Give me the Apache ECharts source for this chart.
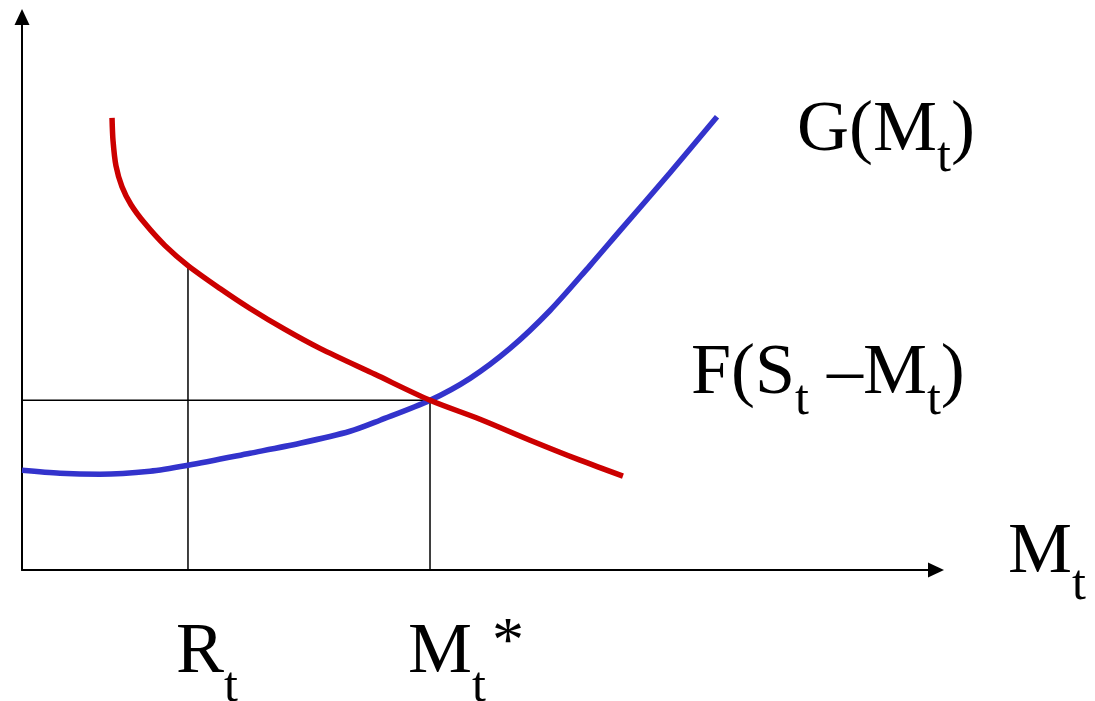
<!DOCTYPE html>
<html>
<head>
<meta charset="utf-8">
<script src="https://cdn.jsdelivr.net/npm/echarts@6/dist/echarts.min.js"></script>
<style>html,body{margin:0;padding:0;background:#fff}#c{width:1095px;height:701px}</style>
</head>
<body>
<div id="c"></div>
<script>
// F(S_t - M_t) curve (red)
const fX = [9.85,9.96,10.28,10.94,11.93,13.46,15.65,18.16,21.66,24.95,28.77,32.60,38.62,44.64,50.11,55.58,61.05,65.75];
const fY = [81.77,77.62,73.10,69.31,66.06,62.64,58.66,55.05,50.90,47.29,43.50,40.07,35.38,30.69,27.26,23.47,19.86,16.97];
// G(M_t) curve (blue)
const gX = [0,4.16,8.53,14.0,18.16,24.95,30.42,35.89,39.17,44.64,49.02,53.39,57.77,62.14,65.43,70.9,76.04];
const gY = [18.05,17.51,17.33,17.87,18.95,21.12,22.92,25.09,27.08,30.69,34.66,40.07,46.93,55.05,61.37,71.84,81.95];
// guide points
const rtX = 18.16, rtY = 55.05;
const mStarX = 44.64, mStarY = 30.69;

const serif = '"Liberation Serif","Times New Roman",serif';
const chart = echarts.init(document.getElementById('c'));

function pairs(xs, ys){ return xs.map((x,i)=>[x, ys[i]]); }
function richFor(drop){
  return {
    m: {fontSize:72, fontFamily:serif, lineHeight:72, verticalAlign:'top', color:'#000'},
    s: {fontSize:50, fontFamily:serif, lineHeight:68 + drop, verticalAlign:'bottom', color:'#000'}
  };
}
function label(x, y, text, rich){
  return {type:'text', left:x, top:y, style:{text:text, rich:rich, fill:'#000'}};
}

const thin = {color:'#000', width:1.5};
const axisLine = {lineStyle:{color:'#000', width:2}, symbol:['none','triangle'], symbolSize:[15,16]};
chart.setOption({
  animation:false,
  grid:{left:22, right:159, top:17, bottom:131},
  xAxis:{type:'value', min:0, max:100, axisLabel:{show:false}, axisTick:{show:false}, splitLine:{show:false}, axisLine:axisLine},
  yAxis:{type:'value', min:0, max:100, axisLabel:{show:false}, axisTick:{show:false}, splitLine:{show:false}, axisLine:axisLine},
  series:[
    {type:'line', data:[[rtX,0],[rtX,rtY]], symbol:'none', lineStyle:thin, z:1},
    {type:'line', data:[[0,mStarY],[mStarX,mStarY],[mStarX,0]], symbol:'none', lineStyle:thin, z:1},
    {type:'line', data:pairs(gX,gY), smooth:0.3, symbol:'none', lineStyle:{color:'#3333cc', width:5.5}, z:2},
    {type:'line', data:pairs(fX,fY), smooth:0.3, symbol:'none', lineStyle:{color:'#cc0000', width:5.5}, z:3}
  ],
  graphic:[
    label(797, 95, '{m|G(M}{s|t}{m|)}', richFor(20)),
    label(691, 338, '{m|F(S}{s|t}{m| –M}{s|t}{m|)}', richFor(20)),
    label(1008, 517, '{m|M}{s|t}', richFor(26)),
    label(176, 617, '{m|R}{s|t}', richFor(28)),
    label(408, 617, '{m|M}{s|t}', richFor(28)),
    {type:'text', left:492, top:612, style:{text:'*', font:'64px ' + serif, fill:'#000'}}
  ]
});
</script>
</body>
</html>
